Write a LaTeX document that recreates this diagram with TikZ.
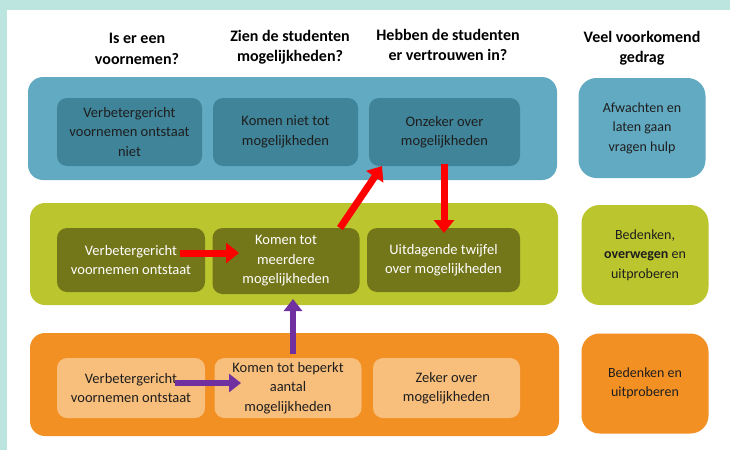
\documentclass[tikz,border=0pt]{standalone}
\usepackage{fontspec}
\setmainfont{Carlito}
\usetikzlibrary{arrows.meta}
\definecolor{mint}{HTML}{BDE5DF}
\definecolor{bandblue}{HTML}{62AAC2}
\definecolor{boxblue}{HTML}{3F8499}
\definecolor{bandgreen}{HTML}{BBC52E}
\definecolor{boxgreen}{HTML}{74761A}
\definecolor{bandorange}{HTML}{F29024}
\definecolor{boxorange}{HTML}{F8BE7B}
\definecolor{arrred}{HTML}{FF0000}
\definecolor{arrpurple}{HTML}{7030A0}
\definecolor{txtdark}{HTML}{1E1E1E}
\tikzset{
  band/.style={rectangle, rounded corners=15pt, inner sep=0pt},
  inbox/.style={rectangle, rounded corners=10pt, inner sep=0pt, align=center,
    font=\fontsize{14.5}{19.5}\selectfont},
  sidebox/.style={rectangle, rounded corners=18pt, inner sep=0pt, align=center,
    minimum width=127pt, minimum height=100pt, text=txtdark,
    font=\fontsize{14}{19.5}\selectfont},
  header/.style={align=center, inner sep=0pt, text=black,
    font=\fontsize{16}{20.5}\selectfont\bfseries},
  redarrow/.style={draw=arrred, line width=7pt, -{Triangle[length=13pt,width=20pt]}},
  purplearrow/.style={draw=arrpurple, line width=6pt, -{Triangle[length=12pt,width=18pt]}},
}
\begin{document}
\begin{tikzpicture}[x=1pt,y=-1pt]
\useasboundingbox (0,0) rectangle (730,450);
\fill[white] (0,0) rectangle (730,450);
\fill[mint] (0,0) rectangle (730,10);
\fill[mint] (0,0) rectangle (7,450);

% headers
\node[header] (h1) at (137,49) {Is er een\\voornemen?};
\node[header] (h2) at (290,47) {Zien de studenten\\mogelijkheden?};
\node[header] (h3) at (448,45) {Hebben de studenten\\er vertrouwen in?};
\node[header] (h4) at (642,48) {Veel voorkomend\\gedrag};

% bands
\node[band, fill=bandblue, minimum width=529pt, minimum height=103pt] (bb) at (292.5,128.5) {};
\node[band, fill=bandgreen, minimum width=528pt, minimum height=102pt] (bg) at (294,254) {};
\node[band, fill=bandorange, minimum width=529pt, minimum height=103pt] (bo) at (294.5,384.5) {};

% blue row
\node[inbox, fill=boxblue, text=txtdark, minimum width=145pt, minimum height=68pt] (b1) at (129.5,132) {Verbetergericht\\voornemen ontstaat\\niet};
\node[inbox, fill=boxblue, text=txtdark, minimum width=145pt, minimum height=68pt] (b2) at (285.5,132) {Komen niet tot\\mogelijkheden};
\node[inbox, fill=boxblue, text=txtdark, minimum width=151pt, minimum height=68pt] (b3) at (444.5,132) {Onzeker over\\mogelijkheden};

% green row
\node[inbox, fill=boxgreen, text=white, minimum width=148pt, minimum height=64pt] (g1) at (131,260) {Verbetergericht\\voornemen ontstaat};
\node[inbox, fill=boxgreen, text=white, minimum width=147pt, minimum height=66pt] (g2) at (286,261) {Komen tot\\meerdere\\mogelijkheden};
\node[inbox, fill=boxgreen, text=white, minimum width=153pt, minimum height=64pt] (g3) at (443.5,260) {Uitdagende twijfel\\over mogelijkheden};

% orange row
\node[inbox, fill=boxorange, text=txtdark, minimum width=148pt, minimum height=60pt] (o1) at (131,388) {Verbetergericht\\voornemen ontstaat};
\node[inbox, fill=boxorange, text=txtdark, minimum width=147pt, minimum height=60pt] (o2) at (288,388) {Komen tot beperkt\\aantal\\mogelijkheden};
\node[inbox, fill=boxorange, text=txtdark, minimum width=147pt, minimum height=60pt] (o3) at (446.5,388) {Zeker over\\mogelijkheden};

% side boxes
\node[sidebox, fill=bandblue] (s1) at (642,128) {Afwachten en\\laten gaan\\vragen hulp};
\node[sidebox, fill=bandgreen] (s2) at (645,255) {Bedenken,\\\textbf{overwegen} en\\uitproberen};
\node[sidebox, fill=bandorange] (s3) at (645,383.5) {Bedenken en\\uitproberen};

% arrow end points
\coordinate (rA) at (180,253);
\coordinate (rB) at (239,253);
\coordinate (dA) at (340,228);
\coordinate (dB) at (382,166);
\coordinate (vA) at (444,164);
\coordinate (vB) at (444,233);
\coordinate (pA) at (293,354);
\coordinate (pB) at (293,299);
\coordinate (qA) at (175,383);
\coordinate (qB) at (241,383);

\draw[redarrow] (rA) -- (rB);
\draw[redarrow] (dA) -- (dB);
\draw[redarrow] (vA) -- (vB);
\draw[purplearrow] (pA) -- (pB);
\draw[purplearrow] (qA) -- (qB);
\end{tikzpicture}
\end{document}
